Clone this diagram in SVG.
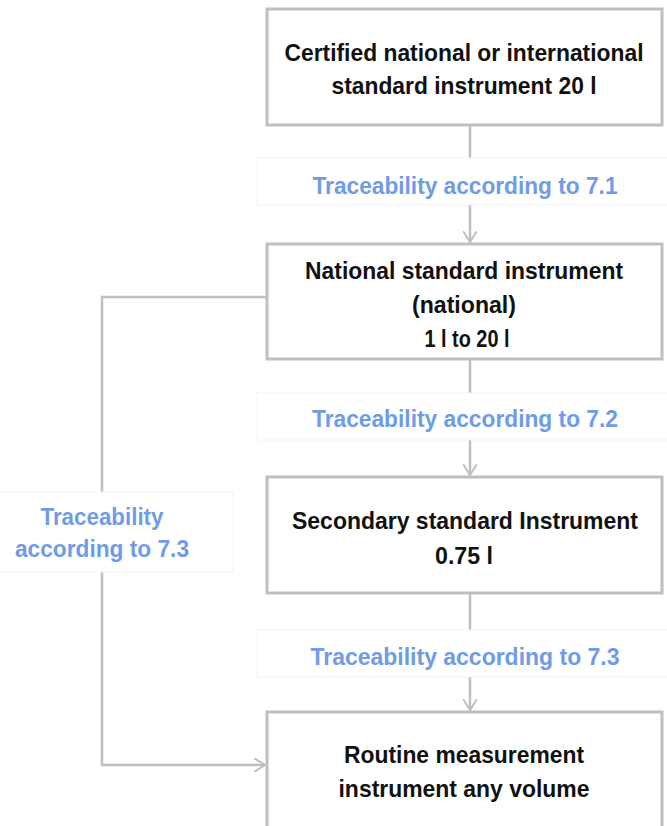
<svg xmlns="http://www.w3.org/2000/svg" width="667" height="826" viewBox="0 0 667 826">
  <style>
    .box { fill: #ffffff; stroke: #bfbfbf; stroke-width: 3; }
    .lblbg { fill: #ffffff; stroke: #f3f3f3; stroke-width: 1; }
    .t { font-family: "Liberation Sans", Arial, sans-serif; font-weight: bold; font-size: 24px; fill: #111111; text-anchor: middle; }
    .lb { font-family: "Liberation Sans", Arial, sans-serif; font-weight: bold; font-size: 24px; fill: #6f9be8; text-anchor: middle; }
    .conn { fill: none; stroke: #bfbfbf; stroke-width: 2.5; }
  </style>
  <defs>
    <marker id="arr" viewBox="0 0 12 14" refX="11" refY="7" markerWidth="12" markerHeight="14" markerUnits="userSpaceOnUse" orient="auto">
      <path d="M0,0 L11,7 L0,14" fill="none" stroke="#bfbfbf" stroke-width="2"/>
    </marker>
  </defs>
  <rect width="667" height="826" fill="#ffffff"/>

  <g id="connectors">
    <line class="conn" x1="470" y1="125" x2="470" y2="158"/>
    <line class="conn" x1="470" y1="205" x2="470" y2="242" marker-end="url(#arr)"/>
    <line class="conn" x1="470" y1="359" x2="470" y2="393"/>
    <line class="conn" x1="470" y1="440" x2="470" y2="475" marker-end="url(#arr)"/>
    <line class="conn" x1="470" y1="594" x2="470" y2="630"/>
    <line class="conn" x1="470" y1="677" x2="470" y2="710" marker-end="url(#arr)"/>
    <polyline class="conn" points="267,297 102,297 102,492"/>
    <polyline class="conn" points="102,572 102,765 265,765" marker-end="url(#arr)"/>
  </g>

  <g id="label71">
    <rect class="lblbg" x="257" y="158" width="412" height="47"/>
    <text class="lb" x="465" y="194" textLength="305" lengthAdjust="spacingAndGlyphs">Traceability according to 7.1</text>
  </g>
  <g id="label72">
    <rect class="lblbg" x="257" y="393" width="412" height="47"/>
    <text class="lb" x="465" y="427" textLength="306" lengthAdjust="spacingAndGlyphs">Traceability according to 7.2</text>
  </g>
  <g id="label73">
    <rect class="lblbg" x="257" y="630" width="412" height="47"/>
    <text class="lb" x="465" y="665" textLength="309" lengthAdjust="spacingAndGlyphs">Traceability according to 7.3</text>
  </g>
  <g id="label73left">
    <rect class="lblbg" x="-2" y="492" width="235" height="80"/>
    <text class="lb" x="102" y="525" textLength="123" lengthAdjust="spacingAndGlyphs">Traceability</text>
    <text class="lb" x="102" y="557" textLength="174" lengthAdjust="spacingAndGlyphs">according to 7.3</text>
  </g>

  <g id="node1">
    <rect class="box" x="267" y="9" width="395" height="116"/>
    <text class="t" x="464" y="61" textLength="359" lengthAdjust="spacingAndGlyphs">Certified national or international</text>
    <text class="t" x="464" y="94" textLength="265" lengthAdjust="spacingAndGlyphs">standard instrument 20 l</text>
  </g>
  <g id="node2">
    <rect class="box" x="267" y="244" width="395" height="115"/>
    <text class="t" x="464" y="279" textLength="318" lengthAdjust="spacingAndGlyphs">National standard instrument</text>
    <text class="t" x="464" y="313" textLength="104" lengthAdjust="spacingAndGlyphs">(national)</text>
    <text class="t" x="467" y="347" textLength="85" lengthAdjust="spacingAndGlyphs">1 l to 20 l</text>
  </g>
  <g id="node3">
    <rect class="box" x="267" y="477" width="395" height="116"/>
    <text class="t" x="465" y="529" textLength="346" lengthAdjust="spacingAndGlyphs">Secondary standard Instrument</text>
    <text class="t" x="464" y="564" textLength="58" lengthAdjust="spacingAndGlyphs">0.75 l</text>
  </g>
  <g id="node4">
    <rect class="box" x="267" y="712" width="395" height="120"/>
    <text class="t" x="464" y="763" textLength="240" lengthAdjust="spacingAndGlyphs">Routine measurement</text>
    <text class="t" x="464" y="797" textLength="251" lengthAdjust="spacingAndGlyphs">instrument any volume</text>
  </g>
</svg>
